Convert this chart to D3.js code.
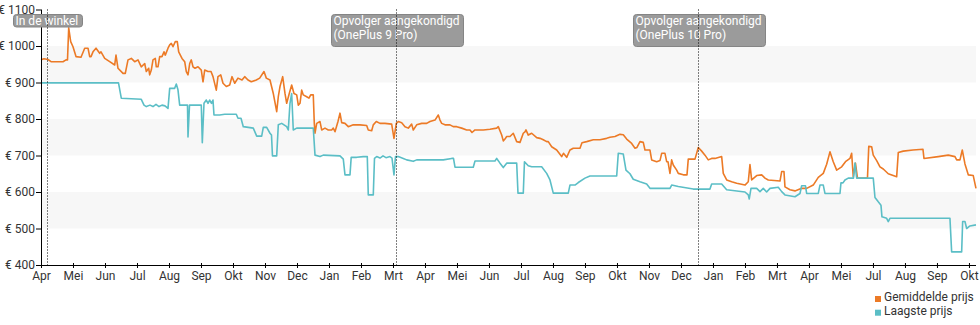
<!DOCTYPE html>
<html>
<head>
<meta charset="utf-8">
<script src="https://cdn.jsdelivr.net/npm/d3@7"></script>
<style>
  html, body { margin: 0; padding: 0; background: #fff; }
  svg { display: block; font-family: Roboto, "Noto Sans", sans-serif; }
</style>
</head>
<body>
<svg id="chart" width="980" height="325"></svg>
<script>
// ---- data (x = month-tick index, y = price in €) ----
const tickLabels = ["Apr","Mei","Jun","Jul","Aug","Sep","Okt","Nov","Dec","Jan","Feb","Mrt","Apr","Mei","Jun","Jul","Aug","Sep","Okt","Nov","Dec","Jan","Feb","Mrt","Apr","Mei","Jul","Aug","Sep","Okt"];
const yTicks = [400, 500, 600, 700, 800, 900, 1000, 1100];
const bands = [[900, 1000], [700, 800], [500, 600]];
const seriesNames = ["Gemiddelde prijs", "Laagste prijs"];
const seriesColors = ["#ec7a26", "#5bbec6"];
const events = [
  { t: 0.172, lines: ["In de winkel"] },
  { t: 11.084, lines: ["Opvolger aangekondigd", "(OnePlus 9 Pro)"] },
  { t: 20.522, lines: ["Opvolger aangekondigd", "(OnePlus 10 Pro)"] }
];

const gemiddelde = [
[0,962],[0.094,965],[0.219,963],[0.313,957],[0.688,957],[0.781,962],[0.828,962],[0.866,1050],[0.928,1012],[1.0,998],
[1.094,971],[1.25,969],[1.366,994],[1.469,994],[1.522,971],[1.563,971],[1.625,984],[1.719,994],[1.834,980],[1.875,984],
[1.991,966],[2.147,957],[2.303,948],[2.344,975],[2.406,939],[2.563,925],[2.634,925],[2.719,962],[2.822,966],[2.928,957],
[3.031,962],[3.134,943],[3.241,952],[3.291,930],[3.366,939],[3.397,921],[3.447,934],[3.5,962],[3.572,966],[3.603,943],
[3.656,943],[3.709,971],[3.781,971],[3.844,984],[3.884,975],[3.969,994],[4.022,1003],[4.072,1007],[4.125,998],[4.197,1012],
[4.259,1012],[4.303,984],[4.406,966],[4.491,957],[4.541,930],[4.594,921],[4.647,952],[4.697,962],[4.75,943],[4.813,939],
[4.906,943],[5.009,934],[5.063,902],[5.116,934],[5.219,930],[5.313,930],[5.375,916],[5.478,879],[5.531,916],[5.616,921],
[5.688,898],[5.791,889],[5.897,893],[5.969,916],[6.053,898],[6.156,912],[6.281,907],[6.366,916],[6.469,907],[6.572,902],
[6.728,907],[6.834,912],[6.969,930],[7.041,912],[7.156,907],[7.259,870],[7.366,820],[7.416,861],[7.469,889],[7.553,916],
[7.625,870],[7.678,843],[7.759,870],[7.834,893],[7.906,870],[7.991,866],[8.041,838],[8.094,843],[8.147,879],[8.197,866],
[8.303,861],[8.375,857],[8.428,866],[8.509,866],[8.541,788],[8.563,761],[8.616,788],[8.719,793],[8.772,770],[8.875,775],
[8.978,770],[9.084,770],[9.134,775],[9.188,765],[9.281,793],[9.344,816],[9.397,790],[9.5,788],[9.603,779],[9.759,784],
[9.969,784],[10.178,782],[10.228,770],[10.334,768],[10.384,784],[10.478,793],[10.594,788],[10.75,788],[10.959,786],[11.031,747],
[11.103,788],[11.166,793],[11.272,790],[11.375,779],[11.478,775],[11.584,786],[11.634,770],[11.741,784],[11.897,788],[12.053,788],
[12.156,793],[12.313,797],[12.416,811],[12.469,797],[12.522,788],[12.625,784],[12.781,784],[12.884,779],[12.991,779],[13.147,775],
[13.303,770],[13.406,770],[13.469,763],[13.563,770],[13.822,770],[14.031,772],[14.241,775],[14.291,779],[14.397,756],[14.447,740],
[14.5,745],[14.553,752],[14.656,752],[14.759,761],[14.866,738],[14.969,736],[15.072,761],[15.125,765],[15.156,770],[15.228,756],
[15.334,761],[15.491,749],[15.594,747],[15.697,743],[15.803,738],[15.853,738],[15.959,724],[16.116,715],[16.272,697],[16.328,706],
[16.428,695],[16.531,715],[16.634,720],[16.844,720],[16.906,735],[17.053,738],[17.259,743],[17.469,743],[17.678,747],[17.781,750],
[17.938,752],[18.094,758],[18.197,757],[18.303,745],[18.459,733],[18.563,720],[18.625,722],[18.719,738],[18.822,736],[18.875,715],
[19.031,715],[19.084,688],[19.241,683],[19.344,686],[19.397,706],[19.5,706],[19.553,683],[19.594,683],[19.656,651],[19.709,688],
[19.759,674],[19.866,660],[19.916,651],[20.072,647],[20.188,647],[20.228,690],[20.438,690],[20.541,722],[20.647,712],[20.75,701],
[20.853,688],[20.959,692],[21.063,692],[21.272,697],[21.322,651],[21.428,633],[21.584,628],[21.741,624],[22.0,619],[22.103,628],
[22.156,675],[22.209,633],[22.366,645],[22.522,647],[22.625,638],[22.728,633],[23.094,630],[23.147,656],[23.219,656],[23.25,614],
[23.406,606],[23.563,603],[23.772,610],[23.928,610],[24.134,619],[24.291,640],[24.447,651],[24.553,676],[24.656,710],[24.759,683],
[24.866,660],[25.022,669],[25.141,683],[25.281,692],[25.334,706],[25.384,642],[25.453,679],[25.516,638],[25.828,638],[25.869,725],
[25.959,724],[26.009,701],[26.116,686],[26.219,669],[26.322,663],[26.478,650],[26.741,642],[26.791,708],[26.947,712],[27.25,715],
[27.563,717],[27.594,692],[28.041,697],[28.353,701],[28.563,697],[28.616,688],[28.719,688],[28.791,715],[28.875,677],[28.978,647],
[29.134,645],[29.219,610]
];

const laagste = [
[0,899],[2.422,899],[2.509,857],[3.134,854],[3.219,838],[3.291,834],[3.406,838],[3.5,834],[3.594,840],[3.688,834],
[3.781,838],[3.875,836],[3.969,829],[4.022,884],[4.178,884],[4.228,896],[4.281,880],[4.334,838],[4.578,838],[4.594,751],
[4.641,838],[5.009,838],[5.041,735],[5.094,843],[5.166,852],[5.219,843],[5.272,852],[5.328,843],[5.375,852],[5.406,811],
[5.584,811],[5.741,813],[6.103,813],[6.156,802],[6.25,802],[6.322,779],[6.634,775],[6.741,753],[6.897,753],[6.947,777],
[7.053,777],[7.156,761],[7.203,756],[7.234,699],[7.366,699],[7.416,784],[7.522,788],[7.678,779],[7.728,770],[7.781,843],
[7.834,870],[7.884,770],[7.991,775],[8.509,775],[8.563,701],[8.719,697],[8.822,701],[9.344,699],[9.447,690],[9.5,647],
[9.656,647],[9.694,695],[9.866,695],[10.072,697],[10.197,697],[10.228,592],[10.384,592],[10.422,692],[10.491,697],[10.594,693],
[10.688,699],[10.781,694],[10.906,697],[10.969,693],[11.031,647],[11.078,697],[11.166,697],[11.322,692],[11.428,688],[11.634,684],
[11.741,688],[12.572,688],[12.834,692],[12.891,692],[12.938,668],[13.509,668],[13.563,685],[14.188,685],[14.241,692],[14.344,679],
[14.447,667],[14.553,679],[14.866,679],[14.906,597],[15.072,597],[15.109,683],[15.228,672],[15.334,669],[15.647,669],[15.803,651],
[15.906,633],[16.009,597],[16.478,597],[16.531,619],[16.688,619],[16.791,626],[17.0,638],[17.156,644],[17.991,644],[18.041,706],
[18.197,704],[18.281,660],[18.406,650],[18.509,635],[18.719,628],[18.928,622],[19.031,610],[19.656,610],[19.709,619],[19.916,615],
[20.384,608],[20.906,608],[20.959,622],[21.272,622],[21.428,606],[22.0,600],[22.103,592],[22.134,581],[22.188,610],[22.366,610],
[22.469,601],[22.572,610],[22.678,600],[22.781,610],[23.041,613],[23.147,601],[23.25,592],[23.563,587],[23.719,596],[23.772,617],
[23.891,617],[23.928,596],[24.291,596],[24.344,619],[24.447,619],[24.5,596],[24.969,596],[25.0,625],[25.063,625],[25.125,633],
[25.228,638],[25.391,638],[25.438,679],[25.491,638],[26.009,638],[26.063,585],[26.166,573],[26.25,564],[26.281,532],[26.428,528],
[26.478,519],[26.531,528],[28.406,528],[28.459,436],[28.772,436],[28.803,519],[28.875,519],[28.928,500],[29.031,507],[29.219,510]
];

// ---- layout ----
const svg = d3.select("#chart");
const x = d3.scaleLinear().domain([0, 29.22]).range([41, 976]);
const y = d3.scaleLinear().domain([400, 1100]).range([265, 9.5]);
const textColor = "#333";
const crisp = v => Math.round(v) + 0.5;

// background bands
svg.append("g").selectAll("rect").data(bands).join("rect")
  .attr("x", x(0)).attr("width", x.range()[1] - x(0))
  .attr("y", d => y(d[1])).attr("height", d => y(d[0]) - y(d[1]))
  .attr("fill", "#f7f7f7");

// lines
const line = d3.line().x(d => x(d[0])).y(d => y(d[1]));
[gemiddelde, laagste].forEach((s, i) => {
  svg.append("path").datum(s)
    .attr("d", line)
    .attr("fill", "none")
    .attr("stroke", seriesColors[i])
    .attr("stroke-width", 1.6)
    .attr("stroke-linejoin", "round");
});

// y axis
const yAxis = svg.append("g").attr("transform", `translate(${x(0)},0)`)
  .call(d3.axisLeft(y).tickValues(yTicks).tickSize(5).tickPadding(1)
    .tickFormat(d => "€ " + d));
yAxis.select(".domain").attr("stroke", "#000").attr("d", `M0.5,${y(1100)}V${y(400)}`);
yAxis.selectAll(".tick line").attr("stroke", "#000");
yAxis.selectAll("text").attr("fill", textColor).attr("font-size", 12)
  .attr("font-family", "Roboto, sans-serif");

// x axis
const xAxis = svg.append("g").attr("transform", `translate(0,${y(400)})`)
  .call(d3.axisBottom(x).tickValues(d3.range(tickLabels.length)).tickSize(3).tickPadding(3)
    .tickFormat(i => tickLabels[i]));
xAxis.select(".domain").attr("stroke", "#000").attr("d", `M${x(0)},0.5H${x.range()[1]}`);
xAxis.selectAll(".tick line").attr("stroke", "#000").attr("y1", -2);
xAxis.selectAll("text").attr("fill", textColor).attr("font-size", 12)
  .attr("font-family", "Roboto, sans-serif");

// event annotations
const ev = svg.append("g");
events.forEach(e => {
  const g = ev.append("g");
  const rect = g.append("rect");
  const txt = g.append("text").attr("fill", "#fff").attr("font-size", 12)
    .attr("font-family", "Roboto, sans-serif");
  e.lines.forEach((l, i) => {
    txt.append("tspan").attr("x", 0).attr("y", 25 + i * 14).text(l);
  });
  const bb = txt.node().getBBox();
  const w = bb.width + 6;
  const left = Math.round(x(e.t) - w / 2 + 1) + 0.5;
  txt.attr("transform", `translate(${left + 2},0)`);
  const h = e.lines.length === 1 ? 12.5 : 32;
  rect.attr("x", left).attr("y", 14.5).attr("width", Math.round(w)).attr("height", h)
    .attr("rx", 3).attr("fill", "#9b9b9b").attr("stroke", "#858585").attr("stroke-width", 1);
});
ev.selectAll("line.ev").data(events).join("line")
  .attr("class", "ev")
  .attr("x1", d => crisp(x(d.t))).attr("x2", d => crisp(x(d.t)))
  .attr("y1", y(1100)).attr("y2", y(400))
  .attr("stroke", "#000").attr("stroke-width", 1).attr("stroke-dasharray", "1,2");

// legend
const lg = svg.append("g").attr("transform", "translate(875,296)");
seriesNames.forEach((n, i) => {
  lg.append("rect").attr("x", 0).attr("y", i * 13.7).attr("width", 6).attr("height", 6)
    .attr("fill", seriesColors[i]);
  lg.append("text").attr("x", 9).attr("y", i * 13.7 + 5).attr("fill", textColor)
    .attr("font-size", 12).attr("font-family", "Roboto, sans-serif").text(n);
});
</script>
</body>
</html>
